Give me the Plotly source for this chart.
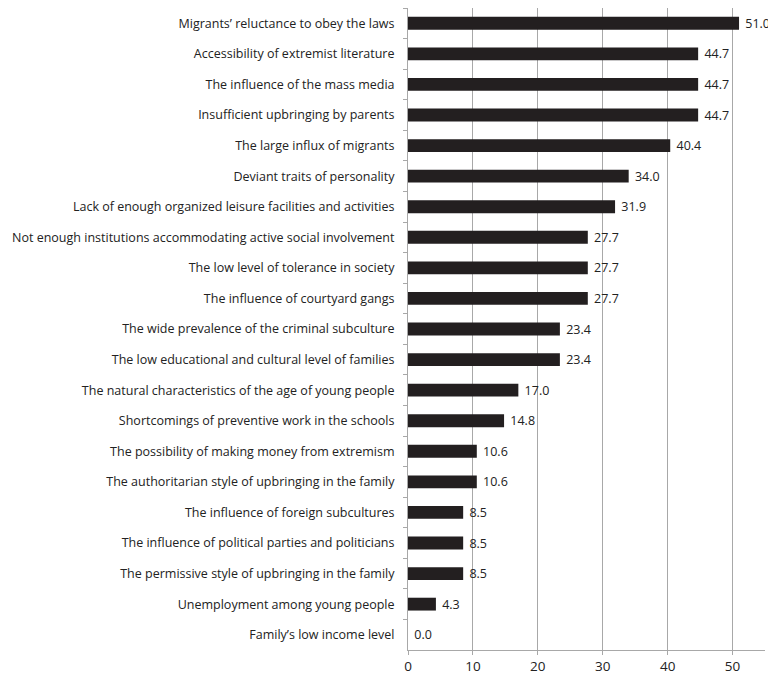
import plotly.graph_objects as go

categories = [
    "Migrants’ reluctance to obey the laws",
    "Accessibility of extremist literature",
    "The influence of the mass media",
    "Insufficient upbringing by parents",
    "The large influx of migrants",
    "Deviant traits of personality",
    "Lack of enough organized leisure facilities and activities",
    "Not enough institutions accommodating active social involvement",
    "The low level of tolerance in society",
    "The influence of courtyard gangs",
    "The wide prevalence of the criminal subculture",
    "The low educational and cultural level of families",
    "The natural characteristics of the age of young people",
    "Shortcomings of preventive work in the schools",
    "The possibility of making money from extremism",
    "The authoritarian style of upbringing in the family",
    "The influence of foreign subcultures",
    "The influence of political parties and politicians",
    "The permissive style of upbringing in the family",
    "Unemployment among young people",
    "Family’s low income level",
]
values = [51.0, 44.7, 44.7, 44.7, 40.4, 34.0, 31.9, 27.7, 27.7, 27.7, 23.4,
          23.4, 17.0, 14.8, 10.6, 10.6, 8.5, 8.5, 8.5, 4.3, 0.0]
x_ticks = [0, 10, 20, 30, 40, 50]

font_family = "Open Sans, Noto Sans, sans-serif"

fig = go.Figure(go.Bar(
    x=values,
    y=categories,
    orientation="h",
    marker=dict(color="#231f20", line=dict(width=0)),
    texttemplate="\u00a0%{x:.1f}",
    textposition="outside",
    constraintext="none",
    textfont=dict(family=font_family, size=12.5, color="#222222"),
    cliponaxis=False,
    width=0.42,
))

fig.update_layout(
    width=768,
    height=670,
    margin=dict(l=400, r=11, t=0, b=28),
    paper_bgcolor="white",
    plot_bgcolor="white",
    showlegend=False,
    font=dict(family=font_family, size=12, color="#222222"),
    xaxis=dict(
        range=[0, 55],
        tickvals=x_ticks,
        showgrid=True,
        gridcolor="#a8a8a8",
        gridwidth=1,
        zeroline=False,
        showline=True,
        linecolor="#a8a8a8",
        linewidth=1,
        ticks="outside",
        ticklen=4,
        tickcolor="#a8a8a8",
        tickfont=dict(family=font_family, size=13.5, color="#222222"),
        automargin=False,
    ),
    yaxis=dict(
        autorange="reversed",
        showgrid=False,
        showline=True,
        linecolor="#a8a8a8",
        linewidth=1,
        ticks="outside",
        tickson="boundaries",
        ticklen=4,
        tickcolor="#a8a8a8",
        ticklabelstandoff=10,
        tickfont=dict(family=font_family, size=12.5, color="#222222"),
        automargin=False,
    ),
)

fig.write_html("out.html")
